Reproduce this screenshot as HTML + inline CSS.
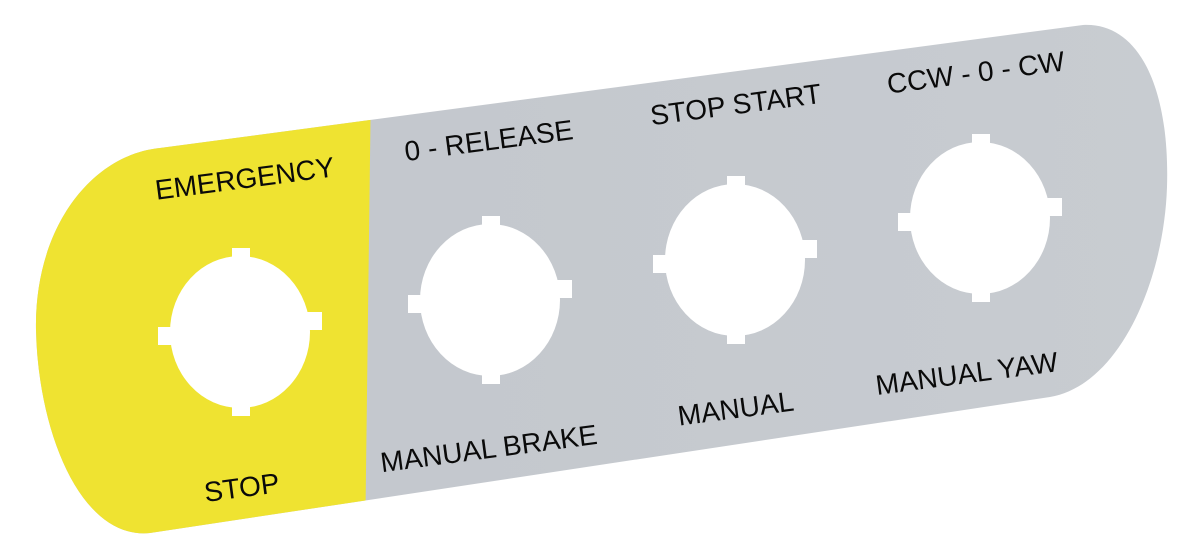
<!DOCTYPE html>
<html><head><style>html,body{margin:0;padding:0;background:#fff;}svg{display:block}</style></head>
<body>
<svg width="1200" height="550" viewBox="0 0 1200 550" xmlns="http://www.w3.org/2000/svg">
<defs>
<linearGradient id="g" x1="0" y1="0" x2="1" y2="0">
<stop offset="0" stop-color="#c2c6cc"/><stop offset="1" stop-color="#c8ccd1"/>
</linearGradient>
<clipPath id="plate">
<path d="M160,148 L1083,25 C1140,22 1170,90 1167,187 C1164,280 1120,385 1050,397 L150,533 C80,540 38,430 36,330 C34,230 90,155 160,148 Z"/>
</clipPath>
</defs>
<g clip-path="url(#plate)">
<rect x="0" y="0" width="1200" height="550" fill="url(#g)"/>
<polygon points="0,0 372,0 365,550 0,550" fill="#efe331"/>
</g>
<g fill="#fff">
<g transform="translate(240,332)"><ellipse rx="70" ry="76"/><rect x="-8" y="-84" width="18" height="16"/><rect x="-8" y="68" width="18" height="16"/><rect x="-82" y="-5" width="16" height="18"/><rect x="66" y="-20" width="16" height="18"/></g>
<g transform="translate(490,300)"><ellipse rx="70" ry="76"/><rect x="-8" y="-84" width="18" height="16"/><rect x="-8" y="68" width="18" height="16"/><rect x="-82" y="-5" width="16" height="18"/><rect x="66" y="-20" width="16" height="18"/></g>
<g transform="translate(735,260)"><ellipse rx="70" ry="76"/><rect x="-8" y="-84" width="18" height="16"/><rect x="-8" y="68" width="18" height="16"/><rect x="-82" y="-5" width="16" height="18"/><rect x="66" y="-20" width="16" height="18"/></g>
<g transform="translate(980,218)"><ellipse rx="70" ry="76"/><rect x="-8" y="-84" width="18" height="16"/><rect x="-8" y="68" width="18" height="16"/><rect x="-82" y="-5" width="16" height="18"/><rect x="66" y="-20" width="16" height="18"/></g>
</g>
<g font-family="Liberation Sans, sans-serif" font-size="28" fill="#0a0a0a" text-anchor="middle">
<text transform="translate(246,188) rotate(-7.5)">EMERGENCY</text>
<text transform="translate(490,150) rotate(-7.5)">0 - RELEASE</text>
<text transform="translate(737,114) rotate(-7.5)">STOP START</text>
<text transform="translate(977,82) rotate(-7.5)">CCW - 0 - CW</text>
<text transform="translate(243,497) rotate(-7.5)">STOP</text>
<text transform="translate(490,458) rotate(-7.5)">MANUAL BRAKE</text>
<text transform="translate(737,418) rotate(-7.5)">MANUAL</text>
<text transform="translate(968,383) rotate(-7.5)">MANUAL YAW</text>
</g>
</svg>
</body></html>
